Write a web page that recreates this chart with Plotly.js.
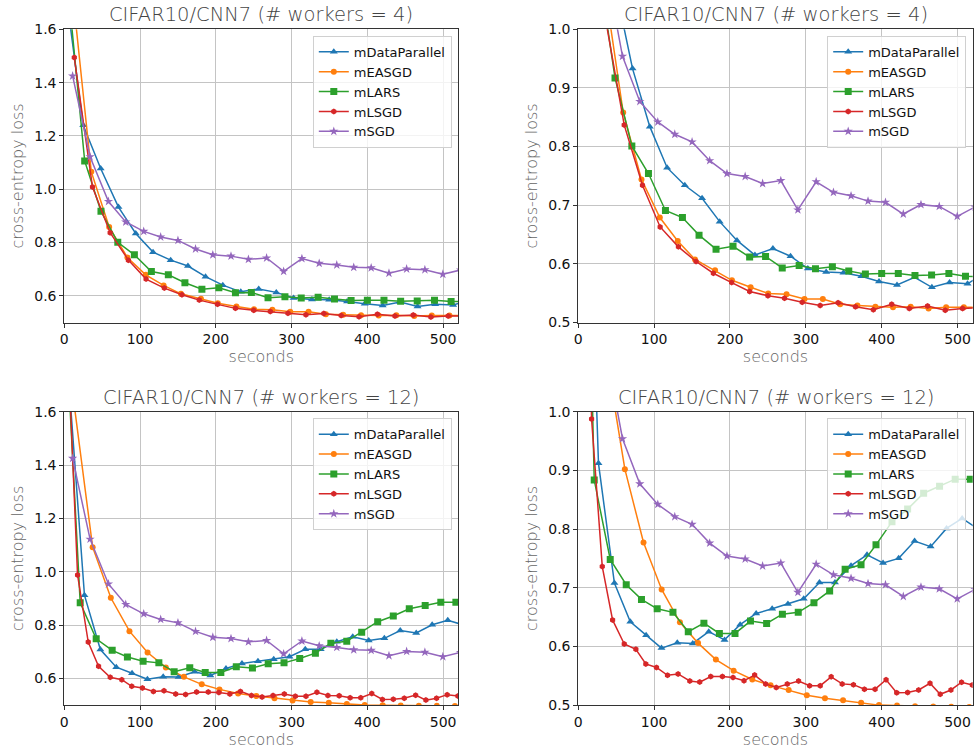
<!DOCTYPE html>
<html>
<head>
<meta charset="utf-8">
<script src="https://cdn.plot.ly/plotly-3.0.1.min.js"></script>
<style>
  html, body { margin: 0; padding: 0; background: #fff; }
  #chart { width: 974px; height: 750px; }
</style>
</head>
<body>
<div id="chart"></div>
<script>
// ---------- data: 4 workers ----------
const w4DataParallelX = [1.6, 25, 48, 71.5, 94.3, 117.1, 140.4, 163.2, 186.4, 209.2, 232.9, 256.6, 279.8, 302.6, 326.8, 349.6, 373.2, 396.5, 420.2, 443.4, 466.2, 489.5, 513.2, 536];
const w4DataParallelY = [1.75, 1.24, 1.078, 0.933, 0.834, 0.764, 0.734, 0.712, 0.672, 0.640, 0.615, 0.626, 0.613, 0.592, 0.586, 0.585, 0.579, 0.570, 0.564, 0.577, 0.560, 0.568, 0.566, 0.585];

const w4EASGDX = [12, 35.6, 59.2, 83.3, 107.5, 131.1, 153.9, 180.3, 202.6, 227.2, 250.4, 274.6, 298.2, 322.4, 345.2, 368, 391.7, 414.9, 438.2, 461.8, 485, 508.3, 531.5];
const w4EASGDY = [1.71, 1.066, 0.858, 0.744, 0.679, 0.639, 0.6075, 0.589, 0.572, 0.560, 0.5495, 0.548, 0.540, 0.540, 0.531, 0.529, 0.527, 0.526, 0.527, 0.524, 0.526, 0.526, 0.526];

const w4LARSX = [4.9, 26.9, 48.4, 70.6, 92.5, 114.9, 137.3, 159.2, 181.6, 204, 225.9, 246.9, 268.9, 291.2, 312.7, 335, 356.6, 378.5, 400, 421.9, 443.9, 465.8, 488.6, 510.5, 532.5];
const w4LARSY = [1.757, 1.106, 0.917, 0.801, 0.754, 0.691, 0.679, 0.649, 0.625, 0.630, 0.6115, 0.6126, 0.593, 0.597, 0.5916, 0.595, 0.588, 0.5825, 0.5836, 0.5836, 0.580, 0.581, 0.5836, 0.579, 0.578];

const w4LSGDX = [13.2, 37.2, 60.5, 84.6, 107.9, 132, 155.3, 178.1, 202.2, 225.9, 250, 271.9, 295.2, 318.9, 342.5, 365.4, 389, 413.2, 436.4, 460.5, 483.8, 506.6, 530];
const w4LSGDY = [1.494, 1.008, 0.837, 0.734, 0.663, 0.629, 0.604, 0.584, 0.568, 0.553, 0.5455, 0.5415, 0.5347, 0.529, 0.5336, 0.5267, 0.5216, 0.531, 0.524, 0.528, 0.521, 0.524, 0.525];

// mSGD baseline (same curve in both worker settings)
const sgdX = [11, 34, 58.3, 81.1, 104.8, 127.2, 150, 173.2, 196, 220, 243, 267, 289.5, 313.6, 336.4, 359.6, 382, 405, 428.5, 451.8, 475.9, 499.6, 523];
const sgdY = [1.425, 1.122, 0.954, 0.877, 0.842, 0.821, 0.808, 0.776, 0.754, 0.749, 0.737, 0.742, 0.692, 0.740, 0.722, 0.716, 0.707, 0.705, 0.685, 0.701, 0.698, 0.681, 0.697];

// ---------- data: 12 workers ----------
const w12DataParallelX = [5.3, 26.6, 47.6, 68.6, 89.4, 109.7, 130.5, 150.9, 172, 192.8, 213.4, 234.5, 255.6, 276.4, 297.2, 318, 338.4, 359.6, 380.7, 401.8, 422.4, 443.4, 464.5, 485.5, 506.1, 527];
const w12DataParallelY = [1.74, 0.912, 0.708, 0.642, 0.619, 0.597, 0.606, 0.605, 0.625, 0.611, 0.637, 0.656, 0.664, 0.672, 0.681, 0.709, 0.709, 0.7375, 0.756, 0.742, 0.750, 0.7795, 0.770, 0.801, 0.818, 0.80];

const w12EASGDX = [13.1, 37.4, 61.4, 86, 109.9, 134, 157.9, 181.4, 204.8, 229.4, 253.5, 277.4, 301.3, 325.2, 349.1, 372.9, 396.5, 420.2, 444, 468, 491.7, 515.5];
const w12EASGDY = [1.625, 1.092, 0.902, 0.777, 0.697, 0.641, 0.6055, 0.5775, 0.5586, 0.5435, 0.5335, 0.5255, 0.5168, 0.5115, 0.508, 0.504, 0.4998, 0.499, 0.498, 0.4975, 0.497, 0.4965];

const w12LARSX = [0.5, 21, 42.1, 63.2, 83.3, 104, 124.8, 145, 165.6, 186, 206.6, 227, 248.3, 269.1, 290, 310.7, 331.4, 351.8, 372.8, 392.5, 413.6, 434.2, 455.3, 476.3, 496.9, 516.8];
const w12LARSY = [2.0, 0.8835, 0.748, 0.705, 0.680, 0.664, 0.658, 0.625, 0.6395, 0.622, 0.622, 0.643, 0.639, 0.6548, 0.658, 0.6745, 0.6944, 0.7315, 0.739, 0.773, 0.8125, 0.834, 0.861, 0.873, 0.885, 0.885];

const w12LSGDX = [3, 17.5, 31.6, 45.2, 60.6, 75.9, 89, 103.1, 117.6, 131.6, 147, 160.1, 174.6, 190, 204, 218.5, 232.5, 247, 261, 275.5, 290.4, 304.9, 319, 333.4, 347.9, 362.8, 377.2, 391.3, 405.8, 419.8, 434.2, 448.7, 463.7, 477.2, 491.3, 505.3, 519.5];
const w12LSGDY = [1.97, 0.9875, 0.736, 0.645, 0.604, 0.595, 0.570, 0.564, 0.5507, 0.553, 0.541, 0.539, 0.5485, 0.5485, 0.547, 0.5415, 0.551, 0.536, 0.530, 0.536, 0.541, 0.533, 0.533, 0.548, 0.536, 0.5347, 0.527, 0.527, 0.543, 0.521, 0.5215, 0.5256, 0.537, 0.5183, 0.5256, 0.5388, 0.534];

// ---------- labels / ticks ----------
const methodNames = ['mDataParallel', 'mEASGD', 'mLARS', 'mLSGD', 'mSGD'];
const panelTitles = ['CIFAR10/CNN7 (# workers = 4)', 'CIFAR10/CNN7 (# workers = 4)',
                     'CIFAR10/CNN7 (# workers = 12)', 'CIFAR10/CNN7 (# workers = 12)'];
const xTickVals = [0, 100, 200, 300, 400, 500];
const yTicksWide = [0.6, 0.8, 1.0, 1.2, 1.4, 1.6];
const yTicksNarrow = [0.5, 0.6, 0.7, 0.8, 0.9, 1.0];
const xLabel = 'seconds';
const yLabel = 'cross-entropy loss';

// ---------- styles ----------
const colors = ['#1f77b4', '#ff7f0e', '#2ca02c', '#d62728', '#9467bd'];
const symbols = ['triangle-up', 'circle', 'square', 'hexagon', 'star'];
const msizes = [7, 6, 7, 6, 7];

const sets4 = [[w4DataParallelX, w4DataParallelY], [w4EASGDX, w4EASGDY], [w4LARSX, w4LARSY], [w4LSGDX, w4LSGDY], [sgdX, sgdY]];
const sets12 = [[w12DataParallelX, w12DataParallelY], [w12EASGDX, w12EASGDY], [w12LARSX, w12LARSY], [w12LSGDX, w12LSGDY], [sgdX, sgdY]];

const panels = [
  {sets: sets4,  ax: '',  legend: 'legend',  yr: [0.5, 1.6], yt: yTicksWide},
  {sets: sets4,  ax: '2', legend: 'legend2', yr: [0.5, 1.0], yt: yTicksNarrow},
  {sets: sets12, ax: '3', legend: 'legend3', yr: [0.5, 1.6], yt: yTicksWide},
  {sets: sets12, ax: '4', legend: 'legend4', yr: [0.5, 1.0], yt: yTicksNarrow}
];

const W = 974, H = 750;
const xDomL = [64.3 / W, 458.3 / W];
const xDomR = [578.3 / W, 972.7 / W];
const yDomT = [1 - 322.5 / H, 1 - 29.3 / H];
const yDomB = [1 - 705 / H, 1 - 411.7 / H];
const doms = [[xDomL, yDomT], [xDomR, yDomT], [xDomL, yDomB], [xDomR, yDomB]];

const FONT = 'DejaVu Sans, Liberation Sans, sans-serif';

const traces = [];
panels.forEach((p, pi) => {
  p.sets.forEach((s, mi) => {
    traces.push({
      type: 'scatter', mode: 'lines+markers',
      x: s[0], y: s[1],
      name: methodNames[mi],
      xaxis: 'x' + p.ax, yaxis: 'y' + p.ax,
      legend: p.legend,
      line: {color: colors[mi], width: 1.5},
      marker: {color: colors[mi], symbol: symbols[mi], size: msizes[mi], line: {width: 0}}
    });
  });
});

const layout = {
  width: W, height: H,
  margin: {l: 0, r: 0, t: 0, b: 0},
  paper_bgcolor: '#fff', plot_bgcolor: '#fff',
  font: {family: FONT, color: '#111', size: 14},
  annotations: [],
  showlegend: true
};

panels.forEach((p, pi) => {
  const d = doms[pi];
  const xa = {
    domain: d[0], anchor: 'y' + p.ax, range: [0, 520],
    tickvals: xTickVals, ticks: 'outside', ticklen: 4, tickcolor: '#333',
    showline: true, mirror: true, linecolor: '#333', linewidth: 1,
    showgrid: true, gridcolor: '#c4c4c4', gridwidth: 1, zeroline: false,
    tickfont: {size: 14, color: '#111', family: FONT},
    title: {text: xLabel, standoff: 4, font: {size: 16, color: '#666', family: FONT, weight: 300}},
    automargin: false
  };
  const ya = {
    domain: d[1], anchor: 'x' + p.ax, range: p.yr,
    tickvals: p.yt, tickformat: '.1f', ticks: 'outside', ticklen: 4, tickcolor: '#333',
    showline: true, mirror: true, linecolor: '#333', linewidth: 1,
    showgrid: true, gridcolor: '#c4c4c4', gridwidth: 1, zeroline: false,
    tickfont: {size: 14, color: '#111', family: FONT},
    title: {text: yLabel, standoff: 6, font: {size: 16, color: '#666', family: FONT, weight: 300}},
    automargin: false
  };
  layout['xaxis' + p.ax] = xa;
  layout['yaxis' + p.ax] = ya;
  layout[p.legend] = {
    x: d[0][1] - 6.5 / W, y: d[1][1] - 6.5 / H, xanchor: 'right', yanchor: 'top',
    bgcolor: 'rgba(255,255,255,0.8)', bordercolor: '#d0d0d0', borderwidth: 1,
    font: {size: 13, color: '#111', family: FONT},
    tracegroupgap: 0
  };
  layout.annotations.push({
    text: panelTitles[pi], xref: 'paper', yref: 'paper',
    x: (d[0][0] + d[0][1]) / 2, y: d[1][1] + 14.5 / H,
    xanchor: 'center', yanchor: 'middle', showarrow: false,
    font: {size: 19.5, color: '#444', family: FONT, weight: 300}
  });
});

Plotly.newPlot('chart', traces, layout, {staticPlot: true, displayModeBar: false});
</script>
</body>
</html>
